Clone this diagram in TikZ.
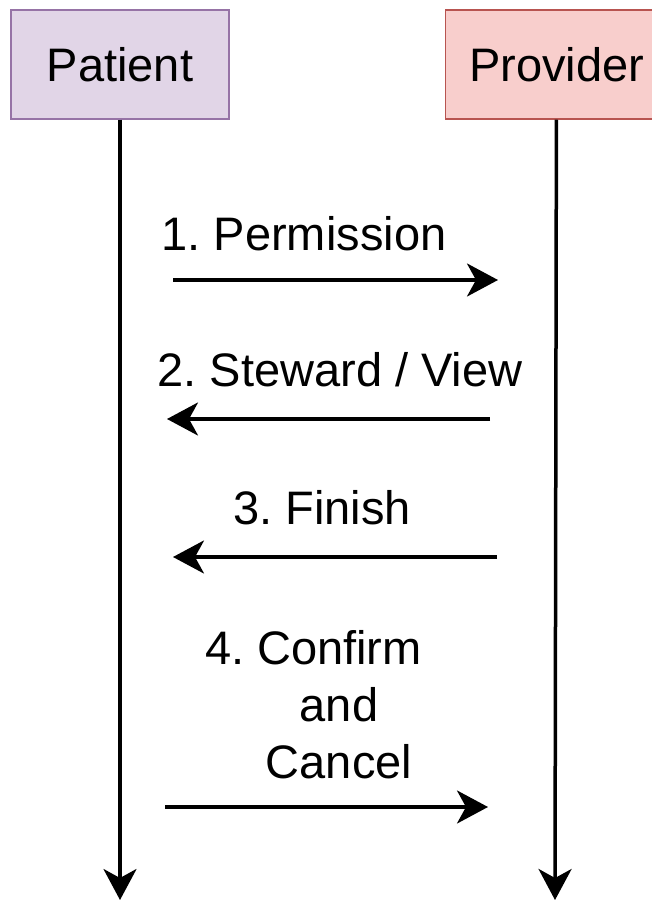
\documentclass[tikz,border=0pt]{standalone}
\usepackage{fontspec}
\setmainfont{Liberation Sans}
\usetikzlibrary{positioning}
\usetikzlibrary{arrows.meta}

\definecolor{patientfill}{HTML}{E1D5E7}
\definecolor{patientline}{HTML}{9673A6}
\definecolor{providerfill}{HTML}{F8CECC}
\definecolor{providerline}{HTML}{B85450}

\frenchspacing

\begin{document}
\begin{tikzpicture}[x=1pt,y=1pt,->,>={Stealth[length=31pt,width=33pt,inset=9pt]},
  line width=3.5pt,
  actor node/.style={draw,line width=1.5pt,minimum width=218pt,minimum height=109pt,
    inner sep=0pt,font=\fontsize{47}{57}\selectfont},
  msg node/.style={font=\fontsize{47}{57}\selectfont,inner sep=0pt,align=center}]

  \useasboundingbox (0,0) rectangle (652,-901);

  \node[actor node,draw=patientline,fill=patientfill] (patient) at (120,-64.5) {Patient};
  \node[actor node,draw=providerline,fill=providerfill,minimum width=222pt] (provider) [right=215pt of patient] {Provider};

  % life lines
  \coordinate (patientend) at (120,-900);
  \coordinate (providerend) at (555,-900);
  \draw (patient) -- (patientend);
  \draw (provider) -- (providerend);

  % message ends
  \coordinate (m1a) at (173,-280);
  \coordinate (m1b) at (498,-280);
  \coordinate (m2a) at (490,-419);
  \coordinate (m2b) at (167,-419);
  \coordinate (m3a) at (497,-557);
  \coordinate (m3b) at (173,-557);
  \coordinate (m4a) at (165,-807);
  \coordinate (m4b) at (488,-807);

  \node[msg node] (l1) at (304,-233.5) {1. Permission};
  \node[msg node] (l2) at (340,-370) {2. Steward / View};
  \node[msg node] (l3) at (322,-507.5) {3. Finish};
  \node[msg node] (l4) at (339,-705) {\makebox[268pt][l]{4. Confirm}\\and\\Cancel};

  \draw (m1a) -- (m1b);
  \draw (m2a) -- (m2b);
  \draw (m3a) -- (m3b);
  \draw (m4a) -- (m4b);
\end{tikzpicture}
\end{document}
